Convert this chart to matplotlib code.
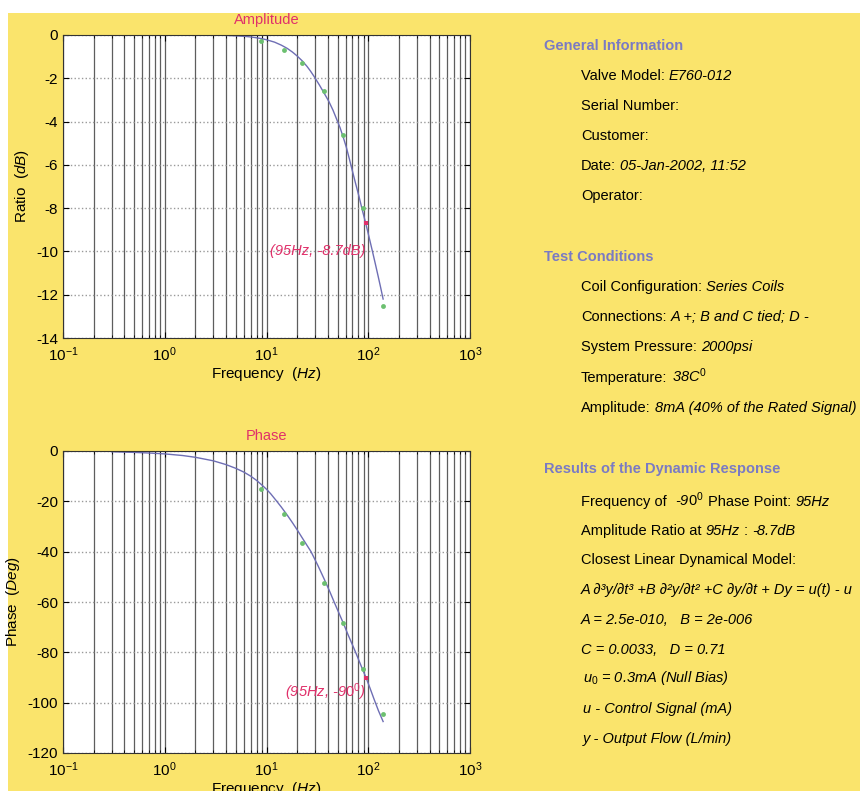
import matplotlib
matplotlib.use("Agg")
import matplotlib.pyplot as plt
from matplotlib.patches import Rectangle

plt.rcParams['font.family'] = ['Liberation Sans', 'DejaVu Sans']
plt.rcParams['mathtext.fontset'] = 'custom'
plt.rcParams['mathtext.rm'] = 'Liberation Sans'
plt.rcParams['mathtext.it'] = 'Liberation Sans:italic'
plt.rcParams['mathtext.bf'] = 'Liberation Sans:bold'
plt.rcParams['axes.unicode_minus'] = False

# measured points (green) and the -90 deg point (red)
meas_freq = [8.9, 15, 22.4, 37, 57, 89, 140]
meas_amp = [-0.3, -0.7, -1.3, -2.6, -4.6, -8.0, -12.5]
meas_phase = [-15, -25, -36.5, -52.5, -68.5, -86.5, -104.5]
pt_freq = 95
pt_amp = -8.7
pt_phase = -90

# model curve
amp_curve_f = [3, 4, 5, 6, 7, 8, 9, 10, 12, 14, 16, 18, 20, 22.5, 25, 27, 29.5, 33, 37, 41, 45,
               49, 53, 57, 61, 65, 70, 75, 81, 87, 95, 102, 110, 118, 125, 132, 140]
amp_curve_db = [0, -0.02, -0.04, -0.06, -0.09, -0.13, -0.17, -0.22, -0.33, -0.47, -0.62, -0.79,
                -0.97, -1.2, -1.45, -1.66, -1.93, -2.3, -2.7, -3.07, -3.47, -3.9, -4.3, -4.75,
                -5.2, -5.7, -6.3, -6.85, -7.45, -8.05, -8.75, -9.35, -10.0, -10.62, -11.14,
                -11.64, -12.2]
ph_curve_f = [0.3, 0.5, 0.7, 1, 1.5, 2, 3, 4, 5, 6, 7, 8, 9, 10, 11, 12.4, 14, 16, 18, 20, 23,
              27.4, 32, 37, 41.5, 46, 51, 57, 63, 69, 75.7, 83, 89, 95, 104, 114.5, 126, 140]
ph_curve_deg = [-0.3, -0.55, -0.8, -1.15, -1.8, -2.5, -3.9, -5.4, -6.9, -8.4, -10.0, -11.7,
                -13.5, -15.2, -17.0, -19.6, -22.3, -25.5, -28.5, -31.3, -35.2, -40, -45.5, -51,
                -55.5, -59.8, -64, -68.5, -72.8, -76.5, -80.3, -84.3, -87.3, -90, -94.2, -98.8,
                -103.2, -107.5]

W, H = 860, 791
YEL = '#fae46c'
RED = '#e0306a'
HEAD = '#7a7ac4'
LINE = '#6e6eb4'
GREEN = '#6cc070'

fig = plt.figure(figsize=(W / 100, H / 100), dpi=100, facecolor='white')
fig.patches.append(Rectangle((8 / W, 0), 1, 1 - 13 / H, transform=fig.transFigure,
                             facecolor=YEL, edgecolor='none', zorder=-10))


def setup(ax, ylim, yticks):
    ax.set_xscale('log')
    ax.set_xlim(0.1, 1000)
    ax.set_ylim(*ylim)
    ax.set_yticks(yticks)
    ax.grid(True, axis='x', which='both', linestyle='-', color='#5e5e5e', linewidth=0.9)
    ax.grid(True, axis='y', which='major', linestyle=':', color='#9a9a9a', linewidth=1.0)
    ax.tick_params(which='both', direction='in', top=True, right=True, labelsize=11)
    ax.tick_params(which='major', length=4)
    ax.tick_params(which='minor', length=2)
    ax.tick_params(axis='x', pad=5)
    for s in ax.spines.values():
        s.set_color('#333333')
        s.set_linewidth(0.8)
    ax.set_xlabel(r"Frequency  $\mathit{(Hz)}$", fontsize=11, labelpad=1)


ax1 = fig.add_axes([63 / W, 1 - 338 / H, 407 / W, 303 / H])
setup(ax1, (-14, 0), list(range(0, -15, -2)))
ax1.plot(amp_curve_f, amp_curve_db, color=LINE, linewidth=1.0)
ax1.plot(meas_freq, meas_amp, 'o', color=GREEN, markersize=3.5, markeredgewidth=0)
ax1.plot([pt_freq], [pt_amp], 's', color=RED, markersize=3.5, markeredgewidth=0)
ax1.text(93, -10, "(95Hz, -8.7dB)", color=RED, style='italic', fontsize=10.5,
         ha='right', va='center')
ax1.set_title("Amplitude", color=RED, fontsize=10.5, pad=8)
ax1.set_ylabel(r"Ratio  $\mathit{(dB)}$", fontsize=11)

ax2 = fig.add_axes([63 / W, 1 - 753 / H, 407 / W, 302 / H])
setup(ax2, (-120, 0), list(range(0, -121, -20)))
ax2.plot(ph_curve_f, ph_curve_deg, color=LINE, linewidth=1.0)
ax2.plot(meas_freq, meas_phase, 'o', color=GREEN, markersize=3.5, markeredgewidth=0)
ax2.plot([pt_freq], [pt_phase], 's', color=RED, markersize=3.5, markeredgewidth=0)
ax2.text(93, -96, r"(95Hz, -9$\mathit{0}^{\mathit{0}}$)", color=RED, style='italic',
         fontsize=10.5, ha='right', va='center')
ax2.set_title("Phase", color=RED, fontsize=10.5, pad=8)
ax2.set_ylabel(r"Phase  $\mathit{(Deg)}$", fontsize=11)

# text panel on the right
tx = fig.add_axes([0, 0, 1, 1], zorder=5)
tx.axis('off')
FS = 10.5


def heading(y, s):
    tx.text(544 / W, 1 - y / H, s, transform=fig.transFigure, color=HEAD,
            fontweight='bold', fontsize=FS, va='center', ha='left')


def line(y, parts, x=581):
    t = tx.text(x / W, 1 - y / H, parts[0][0], transform=fig.transFigure,
                style=parts[0][1], fontsize=FS, va='center', ha='left', color='black')
    for s, st in parts[1:]:
        t = tx.annotate(s, xy=(1, 0), xycoords=t, xytext=(3, 0), textcoords='offset points',
                        style=st, fontsize=FS, va='bottom', ha='left', color='black')


N, I = 'normal', 'italic'
heading(46, "General Information")
line(76, [("Valve Model:", N), ("E760-012", I)])
line(106, [("Serial Number:", N)])
line(136, [("Customer:", N)])
line(166, [("Date:", N), ("05-Jan-2002, 11:52", I)])
line(196, [("Operator:", N)])

heading(257, "Test Conditions")
line(287, [("Coil Configuration:", N), ("Series Coils", I)])
line(317, [("Connections:", N), ("A +; B and C tied; D -", I)])
line(347, [("System Pressure:", N), ("2000psi", I)])
line(378, [("Temperature:", N), (r"38$\mathit{C}^{\mathit{0}}$", I)])
line(408, [("Amplitude:", N), ("8mA (40% of the Rated Signal)", I)])

heading(469, "Results of the Dynamic Response")
line(502, [("Frequency of ", N), (r"-9$\mathit{0}^{\mathit{0}}$", I), ("Phase Point:", N), ("95Hz", I)])
line(531, [("Amplitude Ratio at", N), ("95Hz", I), (":", N), ("-8.7dB", I)])
line(560, [("Closest Linear Dynamical Model:", N)])
line(590, [("A \u2202\u00b3y/\u2202t\u00b3 +B \u2202\u00b2y/\u2202t\u00b2 +C \u2202y/\u2202t + Dy = u(t) - u", I)])
line(620, [("A = 2.5e-010,   B = 2e-006", I)])
line(650, [("C = 0.0033,   D = 0.71", I)])
line(678, [(r"$\mathit{u}_{\mathit{0}}$ = 0.3mA (Null Bias)", I)], x=583)
line(709, [("u - Control Signal (mA)", I)], x=583)
line(739, [("y - Output Flow (L/min)", I)], x=583)

fig.savefig("out.png", dpi=100, facecolor='white')
